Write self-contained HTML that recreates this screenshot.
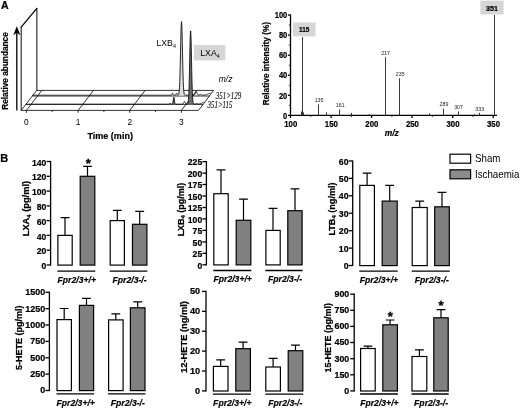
<!DOCTYPE html>
<html><head><meta charset="utf-8"><title>Figure</title>
<style>
html,body{margin:0;padding:0;background:#fff;}
svg{display:block;filter:blur(0.35px);}
text{font-family:"Liberation Sans",Arial,sans-serif;fill:#000;}
.b{font-weight:bold;stroke:#000;stroke-width:0.22;}
.i{font-style:italic;}
.st{font-weight:bold;stroke:#000;stroke-width:0.35;}
.bi{font-weight:bold;font-style:italic;stroke:#000;stroke-width:0.18;}
.ser{font-family:"Liberation Serif","Times New Roman",serif;font-style:italic;fill:#111;stroke:#111;stroke-width:0.15;}
.ax{stroke:#000;stroke-width:1.3;fill:none;}
.thin{stroke:#000;stroke-width:0.8;fill:none;}
.pk{stroke:#222;stroke-width:0.9;fill:none;}
.w{fill:#fff;stroke:#000;stroke-width:1.2;}
.g{fill:#808080;stroke:#000;stroke-width:1.2;}
.eb{stroke:#000;stroke-width:1.2;fill:none;}
.sm{fill:#222;}
</style></head><body>
<svg width="520" height="409" viewBox="0 0 520 409">
<rect x="0" y="0" width="520" height="409" fill="#fff"/>

<text transform="translate(1.00,8.90)" font-size="10.5" text-anchor="start" class="b">A</text>
<line x1="16.8" y1="110.4" x2="16.8" y2="31" class="ax" stroke-width="1.6"/>
<path d="M16.8 26.2 L13.2 35.2 L16.8 32.8 L20.4 35.2 Z" fill="#000"/>
<text transform="translate(8.00,71.00) rotate(-90) scale(0.88,1)" font-size="9.4" text-anchor="middle" class="b">Relative abundance</text>
<path d="M21.2 110.4 L21.2 26.9" fill="none" stroke="#333" stroke-width="1.2"/>
<path d="M36.8 8.6 L36.8 90.4" fill="none" stroke="#5a5a5a" stroke-width="1.5"/>
<path d="M21.2 27.2 L36.8 8.3" fill="none" stroke="#000" stroke-width="1.25" stroke-linecap="round"/>
<path d="M21.2 110.4 L198.6 110.4 L213.6 90.4 L36.6 90.4 Z" class="thin" stroke-width="1.1"/>
<line x1="32.3" y1="96" x2="209.4" y2="96" class="thin" stroke-width="1"/>
<line x1="25.8" y1="104.4" x2="203.1" y2="104.4" class="thin" stroke-width="1"/>
<line x1="26.4" y1="110.4" x2="26.4" y2="112.8" class="thin" stroke-width="1"/>
<line x1="26.4" y1="110.4" x2="41.8" y2="90.4" class="thin" stroke-width="1"/>
<text transform="translate(26.40,124.90) scale(0.95,1)" font-size="8.8" text-anchor="middle">0</text>
<line x1="78.1" y1="110.4" x2="78.1" y2="112.8" class="thin" stroke-width="1"/>
<line x1="78.1" y1="110.4" x2="93.5" y2="90.4" class="thin" stroke-width="1"/>
<text transform="translate(78.07,124.90) scale(0.95,1)" font-size="8.8" text-anchor="middle">1</text>
<line x1="129.7" y1="110.4" x2="129.7" y2="112.8" class="thin" stroke-width="1"/>
<line x1="129.7" y1="110.4" x2="145.1" y2="90.4" class="thin" stroke-width="1"/>
<text transform="translate(129.74,124.90) scale(0.95,1)" font-size="8.8" text-anchor="middle">2</text>
<line x1="181.4" y1="110.4" x2="181.4" y2="112.8" class="thin" stroke-width="1"/>
<line x1="181.4" y1="110.4" x2="196.8" y2="90.4" class="thin" stroke-width="1"/>
<text transform="translate(181.41,124.90) scale(0.95,1)" font-size="8.8" text-anchor="middle">3</text>
<line x1="52.2" y1="110.4" x2="52.2" y2="112" class="thin"/>
<line x1="103.9" y1="110.4" x2="103.9" y2="112" class="thin"/>
<line x1="155.5" y1="110.4" x2="155.5" y2="112" class="thin"/>
<text transform="translate(110.20,138.50) scale(0.94,1)" font-size="9.6" text-anchor="middle" class="b">Time (min)</text>
<path d="M178.25 94.98 L178.50 94.70 L178.75 94.08 L179.00 92.89 L179.25 90.75 L179.50 87.17 L179.75 81.71 L180.00 74.04 L180.25 64.23 L180.50 52.91 L180.75 41.31 L181.00 31.12 L181.25 24.10 L181.50 21.60 L181.75 24.10 L182.00 31.12 L182.25 41.31 L182.50 52.91 L182.75 64.23 L183.00 74.04 L183.25 81.71 L183.50 87.17 L183.75 90.75 L184.00 92.89 L184.25 94.08 L184.50 94.70 L184.75 94.99 L184.8 95.6 L178.2 95.6 Z" fill="#dedede" stroke="none"/>
<path d="M32.50 95.20 L32.75 95.20 L33.00 95.20 L33.25 95.20 L33.50 95.20 L33.75 95.20 L34.00 95.20 L34.25 95.20 L34.50 95.20 L34.75 95.20 L35.00 95.20 L35.25 95.20 L35.50 95.20 L35.75 95.20 L36.00 95.20 L36.25 95.20 L36.50 95.20 L36.75 95.20 L37.00 95.20 L37.25 95.20 L37.50 95.20 L37.75 95.20 L38.00 95.20 L38.25 95.20 L38.50 95.20 L38.75 95.20 L39.00 95.20 L39.25 95.20 L39.50 95.20 L39.75 95.20 L40.00 95.20 L40.25 95.20 L40.50 95.20 L40.75 95.20 L41.00 95.20 L41.25 95.20 L41.50 95.20 L41.75 95.20 L42.00 95.20 L42.25 95.20 L42.50 95.20 L42.75 95.20 L43.00 95.20 L43.25 95.20 L43.50 95.20 L43.75 95.20 L44.00 95.20 L44.25 95.20 L44.50 95.20 L44.75 95.20 L45.00 95.20 L45.25 95.20 L45.50 95.20 L45.75 95.20 L46.00 95.20 L46.25 95.20 L46.50 95.20 L46.75 95.20 L47.00 95.20 L47.25 95.20 L47.50 95.20 L47.75 95.20 L48.00 95.20 L48.25 95.20 L48.50 95.20 L48.75 95.20 L49.00 95.20 L49.25 95.20 L49.50 95.20 L49.75 95.20 L50.00 95.20 L50.25 95.20 L50.50 95.20 L50.75 95.20 L51.00 95.20 L51.25 95.20 L51.50 95.20 L51.75 95.20 L52.00 95.20 L52.25 95.20 L52.50 95.20 L52.75 95.20 L53.00 95.20 L53.25 95.20 L53.50 95.20 L53.75 95.20 L54.00 95.20 L54.25 95.20 L54.50 95.20 L54.75 95.20 L55.00 95.20 L55.25 95.20 L55.50 95.20 L55.75 95.20 L56.00 95.20 L56.25 95.20 L56.50 95.20 L56.75 95.20 L57.00 95.20 L57.25 95.20 L57.50 95.20 L57.75 95.20 L58.00 95.20 L58.25 95.20 L58.50 95.20 L58.75 95.20 L59.00 95.20 L59.25 95.20 L59.50 95.20 L59.75 95.20 L60.00 95.20 L60.25 95.20 L60.50 95.20 L60.75 95.20 L61.00 95.20 L61.25 95.20 L61.50 95.20 L61.75 95.20 L62.00 95.20 L62.25 95.20 L62.50 95.20 L62.75 95.20 L63.00 95.20 L63.25 95.20 L63.50 95.20 L63.75 95.20 L64.00 95.20 L64.25 95.20 L64.50 95.20 L64.75 95.20 L65.00 95.20 L65.25 95.20 L65.50 95.20 L65.75 95.20 L66.00 95.20 L66.25 95.20 L66.50 95.20 L66.75 95.20 L67.00 95.20 L67.25 95.20 L67.50 95.20 L67.75 95.20 L68.00 95.20 L68.25 95.20 L68.50 95.20 L68.75 95.20 L69.00 95.20 L69.25 95.20 L69.50 95.20 L69.75 95.20 L70.00 95.20 L70.25 95.20 L70.50 95.20 L70.75 95.20 L71.00 95.20 L71.25 95.20 L71.50 95.20 L71.75 95.20 L72.00 95.20 L72.25 95.20 L72.50 95.20 L72.75 95.20 L73.00 95.20 L73.25 95.20 L73.50 95.20 L73.75 95.20 L74.00 95.20 L74.25 95.20 L74.50 95.20 L74.75 95.20 L75.00 95.20 L75.25 95.20 L75.50 95.20 L75.75 95.20 L76.00 95.20 L76.25 95.20 L76.50 95.20 L76.75 95.20 L77.00 95.20 L77.25 95.20 L77.50 95.20 L77.75 95.20 L78.00 95.20 L78.25 95.20 L78.50 95.20 L78.75 95.20 L79.00 95.20 L79.25 95.20 L79.50 95.20 L79.75 95.20 L80.00 95.20 L80.25 95.20 L80.50 95.20 L80.75 95.20 L81.00 95.20 L81.25 95.20 L81.50 95.20 L81.75 95.20 L82.00 95.20 L82.25 95.20 L82.50 95.20 L82.75 95.20 L83.00 95.20 L83.25 95.20 L83.50 95.20 L83.75 95.20 L84.00 95.20 L84.25 95.20 L84.50 95.20 L84.75 95.20 L85.00 95.20 L85.25 95.20 L85.50 95.20 L85.75 95.20 L86.00 95.20 L86.25 95.20 L86.50 95.20 L86.75 95.20 L87.00 95.20 L87.25 95.20 L87.50 95.20 L87.75 95.20 L88.00 95.20 L88.25 95.20 L88.50 95.20 L88.75 95.20 L89.00 95.20 L89.25 95.20 L89.50 95.20 L89.75 95.20 L90.00 95.20 L90.25 95.20 L90.50 95.20 L90.75 95.20 L91.00 95.20 L91.25 95.20 L91.50 95.20 L91.75 95.20 L92.00 95.20 L92.25 95.20 L92.50 95.20 L92.75 95.20 L93.00 95.20 L93.25 95.20 L93.50 95.20 L93.75 95.20 L94.00 95.20 L94.25 95.20 L94.50 95.20 L94.75 95.20 L95.00 95.20 L95.25 95.20 L95.50 95.20 L95.75 95.20 L96.00 95.20 L96.25 95.20 L96.50 95.20 L96.75 95.20 L97.00 95.20 L97.25 95.20 L97.50 95.20 L97.75 95.20 L98.00 95.20 L98.25 95.20 L98.50 95.20 L98.75 95.20 L99.00 95.20 L99.25 95.20 L99.50 95.20 L99.75 95.20 L100.00 95.20 L100.25 95.20 L100.50 95.20 L100.75 95.20 L101.00 95.20 L101.25 95.20 L101.50 95.20 L101.75 95.20 L102.00 95.20 L102.25 95.20 L102.50 95.20 L102.75 95.20 L103.00 95.20 L103.25 95.20 L103.50 95.20 L103.75 95.20 L104.00 95.20 L104.25 95.20 L104.50 95.20 L104.75 95.20 L105.00 95.20 L105.25 95.20 L105.50 95.20 L105.75 95.20 L106.00 95.20 L106.25 95.20 L106.50 95.20 L106.75 95.20 L107.00 95.20 L107.25 95.20 L107.50 95.20 L107.75 95.20 L108.00 95.20 L108.25 95.20 L108.50 95.20 L108.75 95.20 L109.00 95.20 L109.25 95.20 L109.50 95.20 L109.75 95.20 L110.00 95.20 L110.25 95.20 L110.50 95.20 L110.75 95.20 L111.00 95.20 L111.25 95.20 L111.50 95.20 L111.75 95.20 L112.00 95.20 L112.25 95.20 L112.50 95.20 L112.75 95.20 L113.00 95.20 L113.25 95.20 L113.50 95.20 L113.75 95.20 L114.00 95.20 L114.25 95.20 L114.50 95.20 L114.75 95.20 L115.00 95.20 L115.25 95.20 L115.50 95.20 L115.75 95.20 L116.00 95.20 L116.25 95.20 L116.50 95.20 L116.75 95.20 L117.00 95.20 L117.25 95.20 L117.50 95.20 L117.75 95.20 L118.00 95.20 L118.25 95.20 L118.50 95.20 L118.75 95.20 L119.00 95.20 L119.25 95.20 L119.50 95.20 L119.75 95.20 L120.00 95.20 L120.25 95.20 L120.50 95.20 L120.75 95.20 L121.00 95.20 L121.25 95.20 L121.50 95.20 L121.75 95.20 L122.00 95.20 L122.25 95.20 L122.50 95.20 L122.75 95.20 L123.00 95.20 L123.25 95.20 L123.50 95.20 L123.75 95.20 L124.00 95.20 L124.25 95.20 L124.50 95.20 L124.75 95.20 L125.00 95.20 L125.25 95.20 L125.50 95.20 L125.75 95.20 L126.00 95.20 L126.25 95.20 L126.50 95.20 L126.75 95.20 L127.00 95.20 L127.25 95.20 L127.50 95.20 L127.75 95.20 L128.00 95.20 L128.25 95.20 L128.50 95.20 L128.75 95.20 L129.00 95.20 L129.25 95.20 L129.50 95.20 L129.75 95.20 L130.00 95.20 L130.25 95.20 L130.50 95.20 L130.75 95.20 L131.00 95.20 L131.25 95.20 L131.50 95.20 L131.75 95.20 L132.00 95.20 L132.25 95.20 L132.50 95.20 L132.75 95.20 L133.00 95.20 L133.25 95.20 L133.50 95.20 L133.75 95.20 L134.00 95.20 L134.25 95.20 L134.50 95.20 L134.75 95.20 L135.00 95.20 L135.25 95.20 L135.50 95.20 L135.75 95.20 L136.00 95.20 L136.25 95.20 L136.50 95.20 L136.75 95.20 L137.00 95.20 L137.25 95.20 L137.50 95.20 L137.75 95.20 L138.00 95.20 L138.25 95.20 L138.50 95.20 L138.75 95.20 L139.00 95.20 L139.25 95.20 L139.50 95.20 L139.75 95.20 L140.00 95.20 L140.25 95.20 L140.50 95.20 L140.75 95.20 L141.00 95.20 L141.25 95.20 L141.50 95.20 L141.75 95.20 L142.00 95.20 L142.25 95.20 L142.50 95.20 L142.75 95.20 L143.00 95.20 L143.25 95.20 L143.50 95.20 L143.75 95.20 L144.00 95.20 L144.25 95.20 L144.50 95.20 L144.75 95.20 L145.00 95.20 L145.25 95.20 L145.50 95.20 L145.75 95.20 L146.00 95.20 L146.25 95.20 L146.50 95.20 L146.75 95.20 L147.00 95.20 L147.25 95.20 L147.50 95.20 L147.75 95.20 L148.00 95.20 L148.25 95.20 L148.50 95.20 L148.75 95.20 L149.00 95.20 L149.25 95.20 L149.50 95.20 L149.75 95.20 L150.00 95.20 L150.25 95.20 L150.50 95.20 L150.75 95.20 L151.00 95.20 L151.25 95.20 L151.50 95.20 L151.75 95.20 L152.00 95.20 L152.25 95.20 L152.50 95.20 L152.75 95.20 L153.00 95.20 L153.25 95.20 L153.50 95.20 L153.75 95.20 L154.00 95.20 L154.25 95.20 L154.50 95.20 L154.75 95.20 L155.00 95.20 L155.25 95.20 L155.50 95.20 L155.75 95.20 L156.00 95.20 L156.25 95.20 L156.50 95.20 L156.75 95.20 L157.00 95.20 L157.25 95.20 L157.50 95.20 L157.75 95.20 L158.00 95.20 L158.25 95.20 L158.50 95.20 L158.75 95.20 L159.00 95.20 L159.25 95.20 L159.50 95.20 L159.75 95.20 L160.00 95.20 L160.25 95.20 L160.50 95.20 L160.75 95.20 L161.00 95.20 L161.25 95.20 L161.50 95.20 L161.75 95.20 L162.00 95.20 L162.25 95.20 L162.50 95.20 L162.75 95.20 L163.00 95.20 L163.25 95.20 L163.50 95.20 L163.75 95.20 L164.00 95.20 L164.25 95.20 L164.50 95.20 L164.75 95.20 L165.00 95.20 L165.25 95.20 L165.50 95.20 L165.75 95.20 L166.00 95.20 L166.25 95.20 L166.50 95.20 L166.75 95.20 L167.00 95.20 L167.25 95.20 L167.50 95.20 L167.75 95.20 L168.00 95.20 L168.25 95.20 L168.50 95.20 L168.75 95.20 L169.00 95.20 L169.25 95.20 L169.50 95.20 L169.75 95.20 L170.00 95.20 L170.25 95.20 L170.50 95.20 L170.75 95.20 L171.00 95.19 L171.25 95.15 L171.50 95.02 L171.75 94.73 L172.00 94.23 L172.25 93.63 L172.50 93.24 L172.75 93.29 L173.00 93.75 L173.25 94.34 L173.50 94.80 L173.75 95.06 L174.00 95.16 L174.25 95.19 L174.50 95.20 L174.75 95.20 L175.00 95.19 L175.25 95.15 L175.50 95.02 L175.75 94.73 L176.00 94.23 L176.25 93.63 L176.50 93.24 L176.75 93.29 L177.00 93.75 L177.25 94.34 L177.50 94.79 L177.75 95.03 L178.00 95.08 L178.25 94.98 L178.50 94.70 L178.75 94.08 L179.00 92.89 L179.25 90.75 L179.50 87.17 L179.75 81.71 L180.00 74.04 L180.25 64.23 L180.50 52.91 L180.75 41.31 L181.00 31.12 L181.25 24.10 L181.50 21.60 L181.75 24.10 L182.00 31.12 L182.25 41.31 L182.50 52.91 L182.75 64.23 L183.00 74.04 L183.25 81.71 L183.50 87.17 L183.75 90.75 L184.00 92.89 L184.25 94.08 L184.50 94.70 L184.75 94.99 L185.00 95.12 L185.25 95.17 L185.50 95.19 L185.75 95.20 L186.00 95.20 L186.25 95.20 L186.50 95.20 L186.75 95.20 L187.00 95.20 L187.25 95.20 L187.50 95.20 L187.75 95.20 L188.00 95.20 L188.25 95.20 L188.50 95.20 L188.75 95.20 L189.00 95.20 L189.25 95.20 L189.50 95.20 L189.75 95.20 L190.00 95.20 L190.25 95.20 L190.50 95.20 L190.75 95.20 L191.00 95.20 L191.25 95.20 L191.50 95.20 L191.75 95.20 L192.00 95.20 L192.25 95.20 L192.50 95.20 L192.75 95.20 L193.00 95.20 L193.25 95.20 L193.50 95.19 L193.75 95.17 L194.00 95.11 L194.25 95.01 L194.50 94.80 L194.75 94.46 L195.00 93.97 L195.25 93.32 L195.50 92.61 L195.75 91.96 L196.00 91.52 L196.25 91.41 L196.50 91.66 L196.75 92.20 L197.00 92.90 L197.25 93.59 L197.50 94.18 L197.75 94.62 L198.00 94.89 L198.25 95.04 L198.50 95.10 L198.75 95.10 L199.00 95.05 L199.25 94.96 L199.50 94.83 L199.75 94.68 L200.00 94.54 L200.25 94.44 L200.50 94.40 L200.75 94.44 L201.00 94.54 L201.25 94.68 L201.50 94.83 L201.75 94.96 L202.00 95.06 L202.25 95.13 L202.50 95.16 L202.75 95.18 L203.00 95.19 L203.25 95.18 L203.50 95.16 L203.75 95.13 L204.00 95.09 L204.25 95.05 L204.50 95.01 L204.75 94.96 L205.00 94.90 L205.25 94.85 L205.50 94.78 L205.75 94.72 L206.00 94.65 L206.25 94.58 L206.50 94.51 L206.75 94.44 L207.00 94.36 L207.25 94.28 L207.50 94.20 L207.75 94.11 L208.00 94.03 L208.25 93.94 L208.50 93.85 L208.75 93.75 L209.00 93.66 L209.25 93.56 L209.50 93.46 L209.75 93.36 L210.00 93.26 L210.25 93.15 L210.50 93.04" fill="none" stroke="#111" stroke-width="0.9" stroke-linejoin="round"/>
<path d="M187.75 103.71 L188.00 103.06 L188.25 101.76 L188.50 99.35 L188.75 95.28 L189.00 89.00 L189.25 80.24 L189.50 69.23 L189.75 56.95 L190.00 45.11 L190.25 35.77 L190.50 30.85 L190.75 31.42 L191.00 37.34 L191.25 47.34 L191.50 59.44 L191.75 71.58 L192.00 82.19 L192.25 90.45 L192.50 96.25 L192.75 99.94 L193.00 102.09 L193.25 103.23 L193.50 103.78 L193.6 104.7 L187.6 104.7 Z" fill="#6c6c6c" stroke="none"/>
<path d="M172.50 103.77 L172.75 103.07 L173.00 101.77 L173.25 99.95 L173.50 98.17 L173.75 97.23 L174.00 97.65 L174.25 99.19 L174.50 101.09 L174.75 102.63 L175.00 103.55 L175.2 104.5 L172.4 104.5 Z" fill="#6c6c6c" stroke="none"/>
<path d="M26.00 104.20 L26.25 104.20 L26.50 104.20 L26.75 104.20 L27.00 104.20 L27.25 104.20 L27.50 104.20 L27.75 104.20 L28.00 104.20 L28.25 104.20 L28.50 104.20 L28.75 104.20 L29.00 104.20 L29.25 104.20 L29.50 104.20 L29.75 104.20 L30.00 104.20 L30.25 104.20 L30.50 104.20 L30.75 104.20 L31.00 104.20 L31.25 104.20 L31.50 104.20 L31.75 104.20 L32.00 104.20 L32.25 104.20 L32.50 104.20 L32.75 104.20 L33.00 104.20 L33.25 104.20 L33.50 104.20 L33.75 104.20 L34.00 104.20 L34.25 104.20 L34.50 104.20 L34.75 104.20 L35.00 104.20 L35.25 104.20 L35.50 104.20 L35.75 104.20 L36.00 104.20 L36.25 104.20 L36.50 104.20 L36.75 104.20 L37.00 104.20 L37.25 104.20 L37.50 104.20 L37.75 104.20 L38.00 104.20 L38.25 104.20 L38.50 104.20 L38.75 104.20 L39.00 104.20 L39.25 104.20 L39.50 104.20 L39.75 104.20 L40.00 104.20 L40.25 104.20 L40.50 104.20 L40.75 104.20 L41.00 104.20 L41.25 104.20 L41.50 104.20 L41.75 104.20 L42.00 104.20 L42.25 104.20 L42.50 104.20 L42.75 104.20 L43.00 104.20 L43.25 104.20 L43.50 104.20 L43.75 104.20 L44.00 104.20 L44.25 104.20 L44.50 104.20 L44.75 104.20 L45.00 104.20 L45.25 104.20 L45.50 104.20 L45.75 104.20 L46.00 104.20 L46.25 104.20 L46.50 104.20 L46.75 104.20 L47.00 104.20 L47.25 104.20 L47.50 104.20 L47.75 104.20 L48.00 104.20 L48.25 104.20 L48.50 104.20 L48.75 104.20 L49.00 104.20 L49.25 104.20 L49.50 104.20 L49.75 104.20 L50.00 104.20 L50.25 104.20 L50.50 104.20 L50.75 104.20 L51.00 104.20 L51.25 104.20 L51.50 104.20 L51.75 104.20 L52.00 104.20 L52.25 104.20 L52.50 104.20 L52.75 104.20 L53.00 104.20 L53.25 104.20 L53.50 104.20 L53.75 104.20 L54.00 104.20 L54.25 104.20 L54.50 104.20 L54.75 104.20 L55.00 104.20 L55.25 104.20 L55.50 104.20 L55.75 104.20 L56.00 104.20 L56.25 104.20 L56.50 104.20 L56.75 104.20 L57.00 104.20 L57.25 104.20 L57.50 104.20 L57.75 104.20 L58.00 104.20 L58.25 104.20 L58.50 104.20 L58.75 104.20 L59.00 104.20 L59.25 104.20 L59.50 104.20 L59.75 104.20 L60.00 104.20 L60.25 104.20 L60.50 104.20 L60.75 104.20 L61.00 104.20 L61.25 104.20 L61.50 104.20 L61.75 104.20 L62.00 104.20 L62.25 104.20 L62.50 104.20 L62.75 104.20 L63.00 104.20 L63.25 104.20 L63.50 104.20 L63.75 104.20 L64.00 104.20 L64.25 104.20 L64.50 104.20 L64.75 104.20 L65.00 104.20 L65.25 104.20 L65.50 104.20 L65.75 104.20 L66.00 104.20 L66.25 104.20 L66.50 104.20 L66.75 104.20 L67.00 104.20 L67.25 104.20 L67.50 104.20 L67.75 104.20 L68.00 104.20 L68.25 104.20 L68.50 104.20 L68.75 104.20 L69.00 104.20 L69.25 104.20 L69.50 104.20 L69.75 104.20 L70.00 104.20 L70.25 104.20 L70.50 104.20 L70.75 104.20 L71.00 104.20 L71.25 104.20 L71.50 104.20 L71.75 104.20 L72.00 104.20 L72.25 104.20 L72.50 104.20 L72.75 104.20 L73.00 104.20 L73.25 104.20 L73.50 104.20 L73.75 104.20 L74.00 104.20 L74.25 104.20 L74.50 104.20 L74.75 104.20 L75.00 104.20 L75.25 104.20 L75.50 104.20 L75.75 104.20 L76.00 104.20 L76.25 104.20 L76.50 104.20 L76.75 104.20 L77.00 104.20 L77.25 104.20 L77.50 104.20 L77.75 104.20 L78.00 104.20 L78.25 104.20 L78.50 104.20 L78.75 104.20 L79.00 104.20 L79.25 104.20 L79.50 104.20 L79.75 104.20 L80.00 104.20 L80.25 104.20 L80.50 104.20 L80.75 104.20 L81.00 104.20 L81.25 104.20 L81.50 104.20 L81.75 104.20 L82.00 104.20 L82.25 104.20 L82.50 104.20 L82.75 104.20 L83.00 104.20 L83.25 104.20 L83.50 104.20 L83.75 104.20 L84.00 104.20 L84.25 104.20 L84.50 104.20 L84.75 104.20 L85.00 104.20 L85.25 104.20 L85.50 104.20 L85.75 104.20 L86.00 104.20 L86.25 104.20 L86.50 104.20 L86.75 104.20 L87.00 104.20 L87.25 104.20 L87.50 104.20 L87.75 104.20 L88.00 104.20 L88.25 104.20 L88.50 104.20 L88.75 104.20 L89.00 104.20 L89.25 104.20 L89.50 104.20 L89.75 104.20 L90.00 104.20 L90.25 104.20 L90.50 104.20 L90.75 104.20 L91.00 104.20 L91.25 104.20 L91.50 104.20 L91.75 104.20 L92.00 104.20 L92.25 104.20 L92.50 104.20 L92.75 104.20 L93.00 104.20 L93.25 104.20 L93.50 104.20 L93.75 104.20 L94.00 104.20 L94.25 104.20 L94.50 104.20 L94.75 104.20 L95.00 104.20 L95.25 104.20 L95.50 104.20 L95.75 104.20 L96.00 104.20 L96.25 104.20 L96.50 104.20 L96.75 104.20 L97.00 104.20 L97.25 104.20 L97.50 104.20 L97.75 104.20 L98.00 104.20 L98.25 104.20 L98.50 104.20 L98.75 104.20 L99.00 104.20 L99.25 104.20 L99.50 104.20 L99.75 104.20 L100.00 104.20 L100.25 104.20 L100.50 104.20 L100.75 104.20 L101.00 104.20 L101.25 104.20 L101.50 104.20 L101.75 104.20 L102.00 104.20 L102.25 104.20 L102.50 104.20 L102.75 104.20 L103.00 104.20 L103.25 104.20 L103.50 104.20 L103.75 104.20 L104.00 104.20 L104.25 104.20 L104.50 104.20 L104.75 104.20 L105.00 104.20 L105.25 104.20 L105.50 104.20 L105.75 104.20 L106.00 104.20 L106.25 104.20 L106.50 104.20 L106.75 104.20 L107.00 104.20 L107.25 104.20 L107.50 104.20 L107.75 104.20 L108.00 104.20 L108.25 104.20 L108.50 104.20 L108.75 104.20 L109.00 104.20 L109.25 104.20 L109.50 104.20 L109.75 104.20 L110.00 104.20 L110.25 104.20 L110.50 104.20 L110.75 104.20 L111.00 104.20 L111.25 104.20 L111.50 104.20 L111.75 104.20 L112.00 104.20 L112.25 104.20 L112.50 104.20 L112.75 104.20 L113.00 104.20 L113.25 104.20 L113.50 104.20 L113.75 104.20 L114.00 104.20 L114.25 104.20 L114.50 104.20 L114.75 104.20 L115.00 104.20 L115.25 104.20 L115.50 104.20 L115.75 104.20 L116.00 104.20 L116.25 104.20 L116.50 104.20 L116.75 104.20 L117.00 104.20 L117.25 104.20 L117.50 104.20 L117.75 104.20 L118.00 104.20 L118.25 104.20 L118.50 104.20 L118.75 104.20 L119.00 104.20 L119.25 104.20 L119.50 104.20 L119.75 104.20 L120.00 104.20 L120.25 104.20 L120.50 104.20 L120.75 104.20 L121.00 104.20 L121.25 104.20 L121.50 104.20 L121.75 104.20 L122.00 104.20 L122.25 104.20 L122.50 104.20 L122.75 104.20 L123.00 104.20 L123.25 104.20 L123.50 104.20 L123.75 104.20 L124.00 104.20 L124.25 104.20 L124.50 104.20 L124.75 104.20 L125.00 104.20 L125.25 104.20 L125.50 104.20 L125.75 104.20 L126.00 104.20 L126.25 104.20 L126.50 104.20 L126.75 104.20 L127.00 104.20 L127.25 104.20 L127.50 104.20 L127.75 104.20 L128.00 104.20 L128.25 104.20 L128.50 104.20 L128.75 104.20 L129.00 104.20 L129.25 104.20 L129.50 104.20 L129.75 104.20 L130.00 104.20 L130.25 104.20 L130.50 104.20 L130.75 104.20 L131.00 104.20 L131.25 104.20 L131.50 104.20 L131.75 104.20 L132.00 104.20 L132.25 104.20 L132.50 104.20 L132.75 104.20 L133.00 104.20 L133.25 104.20 L133.50 104.20 L133.75 104.20 L134.00 104.20 L134.25 104.20 L134.50 104.20 L134.75 104.20 L135.00 104.20 L135.25 104.20 L135.50 104.20 L135.75 104.20 L136.00 104.20 L136.25 104.20 L136.50 104.20 L136.75 104.20 L137.00 104.20 L137.25 104.20 L137.50 104.20 L137.75 104.20 L138.00 104.20 L138.25 104.20 L138.50 104.20 L138.75 104.20 L139.00 104.20 L139.25 104.20 L139.50 104.20 L139.75 104.20 L140.00 104.20 L140.25 104.20 L140.50 104.20 L140.75 104.20 L141.00 104.20 L141.25 104.20 L141.50 104.20 L141.75 104.20 L142.00 104.20 L142.25 104.20 L142.50 104.20 L142.75 104.20 L143.00 104.20 L143.25 104.20 L143.50 104.20 L143.75 104.20 L144.00 104.20 L144.25 104.20 L144.50 104.20 L144.75 104.20 L145.00 104.20 L145.25 104.20 L145.50 104.20 L145.75 104.20 L146.00 104.20 L146.25 104.20 L146.50 104.20 L146.75 104.20 L147.00 104.20 L147.25 104.20 L147.50 104.20 L147.75 104.20 L148.00 104.20 L148.25 104.20 L148.50 104.20 L148.75 104.20 L149.00 104.20 L149.25 104.20 L149.50 104.20 L149.75 104.20 L150.00 104.20 L150.25 104.20 L150.50 104.20 L150.75 104.20 L151.00 104.20 L151.25 104.20 L151.50 104.20 L151.75 104.20 L152.00 104.20 L152.25 104.20 L152.50 104.20 L152.75 104.20 L153.00 104.20 L153.25 104.20 L153.50 104.20 L153.75 104.20 L154.00 104.20 L154.25 104.20 L154.50 104.20 L154.75 104.20 L155.00 104.20 L155.25 104.20 L155.50 104.20 L155.75 104.20 L156.00 104.20 L156.25 104.20 L156.50 104.20 L156.75 104.20 L157.00 104.20 L157.25 104.20 L157.50 104.20 L157.75 104.20 L158.00 104.20 L158.25 104.20 L158.50 104.20 L158.75 104.20 L159.00 104.20 L159.25 104.20 L159.50 104.20 L159.75 104.20 L160.00 104.20 L160.25 104.20 L160.50 104.20 L160.75 104.20 L161.00 104.20 L161.25 104.20 L161.50 104.20 L161.75 104.20 L162.00 104.20 L162.25 104.20 L162.50 104.20 L162.75 104.20 L163.00 104.20 L163.25 104.20 L163.50 104.20 L163.75 104.20 L164.00 104.20 L164.25 104.20 L164.50 104.20 L164.75 104.20 L165.00 104.20 L165.25 104.20 L165.50 104.20 L165.75 104.20 L166.00 104.20 L166.25 104.20 L166.50 104.20 L166.75 104.20 L167.00 104.20 L167.25 104.20 L167.50 104.20 L167.75 104.20 L168.00 104.20 L168.25 104.20 L168.50 104.19 L168.75 104.15 L169.00 104.04 L169.25 103.81 L169.50 103.47 L169.75 103.14 L170.00 103.00 L170.25 103.14 L170.50 103.47 L170.75 103.81 L171.00 104.04 L171.25 104.15 L171.50 104.19 L171.75 104.19 L172.00 104.17 L172.25 104.07 L172.50 103.77 L172.75 103.07 L173.00 101.77 L173.25 99.95 L173.50 98.17 L173.75 97.23 L174.00 97.65 L174.25 99.19 L174.50 101.09 L174.75 102.63 L175.00 103.55 L175.25 103.98 L175.50 104.14 L175.75 104.19 L176.00 104.20 L176.25 104.20 L176.50 104.20 L176.75 104.20 L177.00 104.20 L177.25 104.20 L177.50 104.20 L177.75 104.20 L178.00 104.20 L178.25 104.20 L178.50 104.20 L178.75 104.20 L179.00 104.20 L179.25 104.20 L179.50 104.20 L179.75 104.20 L180.00 104.20 L180.25 104.20 L180.50 104.20 L180.75 104.20 L181.00 104.20 L181.25 104.20 L181.50 104.20 L181.75 104.20 L182.00 104.19 L182.25 104.18 L182.50 104.13 L182.75 104.04 L183.00 103.85 L183.25 103.53 L183.50 103.06 L183.75 102.51 L184.00 101.99 L184.25 101.66 L184.50 101.63 L184.75 101.91 L185.00 102.40 L185.25 102.96 L185.50 103.44 L185.75 103.80 L186.00 104.01 L186.25 104.12 L186.50 104.17 L186.75 104.18 L187.00 104.17 L187.25 104.13 L187.50 104.00 L187.75 103.71 L188.00 103.06 L188.25 101.76 L188.50 99.35 L188.75 95.28 L189.00 89.00 L189.25 80.24 L189.50 69.23 L189.75 56.95 L190.00 45.11 L190.25 35.77 L190.50 30.85 L190.75 31.42 L191.00 37.34 L191.25 47.34 L191.50 59.44 L191.75 71.58 L192.00 82.19 L192.25 90.45 L192.50 96.25 L192.75 99.94 L193.00 102.09 L193.25 103.23 L193.50 103.78 L193.75 104.02 L194.00 104.11 L194.25 104.12 L194.50 104.09 L194.75 104.03 L195.00 103.94 L195.25 103.83 L195.50 103.71 L195.75 103.60 L196.00 103.49 L196.25 103.42 L196.50 103.40 L196.75 103.42 L197.00 103.49 L197.25 103.60 L197.50 103.71 L197.75 103.83 L198.00 103.94 L198.25 104.01 L198.50 104.04 L198.75 104.03 L199.00 104.01 L199.25 103.96 L199.50 103.90 L199.75 103.83 L200.00 103.75 L200.25 103.67 L200.50 103.58 L200.75 103.48 L201.00 103.38 L201.25 103.28 L201.50 103.17 L201.75 103.06 L202.00 102.94 L202.25 102.82 L202.50 102.70 L202.75 102.57 L203.00 102.44 L203.25 102.31 L203.50 102.17 L203.75 102.03" fill="none" stroke="#111" stroke-width="0.9" stroke-linejoin="round"/>
<text transform="translate(156.40,45.60) scale(0.93,1)" font-size="9.4" text-anchor="start">LXB<tspan font-size="5.8" dy="2">4</tspan></text>
<rect x="194" y="45" width="31.4" height="15.4" fill="#d6d6d6"/>
<text transform="translate(200.20,56.40) scale(0.93,1)" font-size="9.4" text-anchor="start">LXA<tspan font-size="5.8" dy="2">4</tspan></text>
<text transform="translate(218.80,81.50) scale(0.9,1)" font-size="9.4" text-anchor="start" class="i">m/z</text>
<text transform="translate(215.80,98.80) scale(0.69,1)" font-size="10" text-anchor="start" class="ser">351&gt;129</text>
<text transform="translate(207.60,107.70) scale(0.69,1)" font-size="10" text-anchor="start" class="ser">351&gt;115</text>
<line x1="290.5" y1="14.5" x2="290.5" y2="115.9" class="ax" stroke-width="1"/>
<line x1="290.0" y1="115.4" x2="497" y2="115.4" class="ax" stroke-width="1"/>
<line x1="287.9" y1="115.4" x2="290.5" y2="115.4" class="ax" stroke-width="0.9"/>
<text transform="translate(287.30,118.60) scale(0.84,1)" font-size="9.0" text-anchor="end" class="b">0</text>
<line x1="287.9" y1="95.3" x2="290.5" y2="95.3" class="ax" stroke-width="0.9"/>
<text transform="translate(287.30,98.52) scale(0.84,1)" font-size="9.0" text-anchor="end" class="b">20</text>
<line x1="287.9" y1="75.2" x2="290.5" y2="75.2" class="ax" stroke-width="0.9"/>
<text transform="translate(287.30,78.44) scale(0.84,1)" font-size="9.0" text-anchor="end" class="b">40</text>
<line x1="287.9" y1="55.2" x2="290.5" y2="55.2" class="ax" stroke-width="0.9"/>
<text transform="translate(287.30,58.36) scale(0.84,1)" font-size="9.0" text-anchor="end" class="b">60</text>
<line x1="287.9" y1="35.1" x2="290.5" y2="35.1" class="ax" stroke-width="0.9"/>
<text transform="translate(287.30,38.28) scale(0.84,1)" font-size="9.0" text-anchor="end" class="b">80</text>
<line x1="287.9" y1="15.0" x2="290.5" y2="15.0" class="ax" stroke-width="0.9"/>
<text transform="translate(287.30,18.20) scale(0.84,1)" font-size="9.0" text-anchor="end" class="b">100</text>
<line x1="288.9" y1="105.4" x2="290.5" y2="105.4" class="thin" stroke-width="0.7"/>
<line x1="288.9" y1="85.3" x2="290.5" y2="85.3" class="thin" stroke-width="0.7"/>
<line x1="288.9" y1="65.2" x2="290.5" y2="65.2" class="thin" stroke-width="0.7"/>
<line x1="288.9" y1="45.1" x2="290.5" y2="45.1" class="thin" stroke-width="0.7"/>
<line x1="288.9" y1="25.0" x2="290.5" y2="25.0" class="thin" stroke-width="0.7"/>
<line x1="290.5" y1="115.4" x2="290.5" y2="118.0" class="ax" stroke-width="0.9"/>
<text transform="translate(290.80,127.30) scale(0.87,1)" font-size="9.0" text-anchor="middle" class="b">100</text>
<line x1="331.1" y1="115.4" x2="331.1" y2="118.0" class="ax" stroke-width="0.9"/>
<text transform="translate(331.35,127.30) scale(0.87,1)" font-size="9.0" text-anchor="middle" class="b">150</text>
<line x1="371.6" y1="115.4" x2="371.6" y2="118.0" class="ax" stroke-width="0.9"/>
<text transform="translate(371.90,127.30) scale(0.87,1)" font-size="9.0" text-anchor="middle" class="b">200</text>
<line x1="412.1" y1="115.4" x2="412.1" y2="118.0" class="ax" stroke-width="0.9"/>
<text transform="translate(412.45,127.30) scale(0.87,1)" font-size="9.0" text-anchor="middle" class="b">250</text>
<line x1="452.7" y1="115.4" x2="452.7" y2="118.0" class="ax" stroke-width="0.9"/>
<text transform="translate(453.00,127.30) scale(0.87,1)" font-size="9.0" text-anchor="middle" class="b">300</text>
<line x1="493.2" y1="115.4" x2="493.2" y2="118.0" class="ax" stroke-width="0.9"/>
<text transform="translate(493.55,127.30) scale(0.87,1)" font-size="9.0" text-anchor="middle" class="b">350</text>
<line x1="310.8" y1="115.4" x2="310.8" y2="117.0" class="thin" stroke-width="0.7"/>
<line x1="351.3" y1="115.4" x2="351.3" y2="117.0" class="thin" stroke-width="0.7"/>
<line x1="391.9" y1="115.4" x2="391.9" y2="117.0" class="thin" stroke-width="0.7"/>
<line x1="432.4" y1="115.4" x2="432.4" y2="117.0" class="thin" stroke-width="0.7"/>
<line x1="473.0" y1="115.4" x2="473.0" y2="117.0" class="thin" stroke-width="0.7"/>
<text transform="translate(268.80,63.60) rotate(-90) scale(0.865,1)" font-size="9.6" text-anchor="middle" class="b">Relative intensity (%)</text>
<text transform="translate(391.80,136.30) scale(0.9,1)" font-size="9.4" text-anchor="middle" class="bi">m/z</text>
<line x1="301.5" y1="115.4" x2="301.5" y2="111.4" class="pk"/>
<line x1="302.5" y1="115.4" x2="302.5" y2="37.1" class="pk"/>
<line x1="303.5" y1="115.4" x2="303.5" y2="112.4" class="pk"/>
<line x1="318.5" y1="115.4" x2="318.5" y2="104.4" class="pk"/>
<line x1="326.5" y1="115.4" x2="326.5" y2="112.4" class="pk"/>
<line x1="339.5" y1="115.4" x2="339.5" y2="109.4" class="pk"/>
<line x1="351.5" y1="115.4" x2="351.5" y2="112.9" class="pk"/>
<line x1="369.5" y1="115.4" x2="369.5" y2="114.2" class="pk"/>
<line x1="385.5" y1="115.4" x2="385.5" y2="57.2" class="pk"/>
<line x1="399.5" y1="115.4" x2="399.5" y2="78.3" class="pk"/>
<line x1="429.5" y1="115.4" x2="429.5" y2="113.4" class="pk"/>
<line x1="443.5" y1="115.4" x2="443.5" y2="108.6" class="pk"/>
<line x1="458.5" y1="115.4" x2="458.5" y2="111.4" class="pk"/>
<line x1="474.5" y1="115.4" x2="474.5" y2="114.4" class="pk"/>
<line x1="479.5" y1="115.4" x2="479.5" y2="112.9" class="pk"/>
<line x1="494.5" y1="115.4" x2="494.5" y2="15.0" class="pk"/>
<text transform="translate(319.08,102.16)" font-size="5.3" text-anchor="middle" class="sm">135</text>
<text transform="translate(340.17,107.18)" font-size="5.3" text-anchor="middle" class="sm">161</text>
<text transform="translate(385.59,54.97)" font-size="5.3" text-anchor="middle" class="sm">217</text>
<text transform="translate(400.19,76.05)" font-size="5.3" text-anchor="middle" class="sm">235</text>
<text transform="translate(443.98,106.37)" font-size="5.3" text-anchor="middle" class="sm">289</text>
<text transform="translate(458.58,109.18)" font-size="5.3" text-anchor="middle" class="sm">307</text>
<text transform="translate(479.66,110.69)" font-size="5.3" text-anchor="middle" class="sm">333</text>
<rect x="293" y="22.4" width="22.6" height="14" fill="#d6d6d6"/>
<text transform="translate(304.20,32.00)" font-size="6.4" text-anchor="middle" class="b">115</text>
<rect x="480.4" y="0.6" width="23.2" height="13.8" fill="#d6d6d6"/>
<text transform="translate(492.00,10.60)" font-size="7.2" text-anchor="middle" class="b">351</text>
<text transform="translate(0.30,161.50)" font-size="11" text-anchor="start" class="b">B</text>
<line x1="50.6" y1="160.9" x2="50.6" y2="265.6" class="ax"/>
<line x1="46.6" y1="265.0" x2="50.6" y2="265.0" class="ax" stroke-width="1.2"/>
<text transform="translate(46.30,269.10) scale(0.92,1)" font-size="9.4" text-anchor="end" class="b">0</text>
<line x1="46.6" y1="250.2" x2="50.6" y2="250.2" class="ax" stroke-width="1.2"/>
<text transform="translate(46.30,254.31) scale(0.92,1)" font-size="9.4" text-anchor="end" class="b">20</text>
<line x1="46.6" y1="235.4" x2="50.6" y2="235.4" class="ax" stroke-width="1.2"/>
<text transform="translate(46.30,239.53) scale(0.92,1)" font-size="9.4" text-anchor="end" class="b">40</text>
<line x1="46.6" y1="220.6" x2="50.6" y2="220.6" class="ax" stroke-width="1.2"/>
<text transform="translate(46.30,224.74) scale(0.92,1)" font-size="9.4" text-anchor="end" class="b">60</text>
<line x1="46.6" y1="205.9" x2="50.6" y2="205.9" class="ax" stroke-width="1.2"/>
<text transform="translate(46.30,209.96) scale(0.92,1)" font-size="9.4" text-anchor="end" class="b">80</text>
<line x1="46.6" y1="191.1" x2="50.6" y2="191.1" class="ax" stroke-width="1.2"/>
<text transform="translate(46.30,195.17) scale(0.92,1)" font-size="9.4" text-anchor="end" class="b">100</text>
<line x1="46.6" y1="176.3" x2="50.6" y2="176.3" class="ax" stroke-width="1.2"/>
<text transform="translate(46.30,180.39) scale(0.92,1)" font-size="9.4" text-anchor="end" class="b">120</text>
<line x1="46.6" y1="161.5" x2="50.6" y2="161.5" class="ax" stroke-width="1.2"/>
<text transform="translate(46.30,165.60) scale(0.92,1)" font-size="9.4" text-anchor="end" class="b">140</text>
<path d="M65.0 235.4 L65.0 217.7 M60.6 217.7 L69.5 217.7" class="eb"/>
<rect x="57.9" y="235.4" width="14.3" height="29.7" class="w"/>
<path d="M87.5 176.3 L87.5 166.3 M83.1 166.3 L91.9 166.3" class="eb"/>
<rect x="80.2" y="176.3" width="14.6" height="88.8" class="g"/>
<text transform="translate(88.20,167.81)" font-size="13" text-anchor="middle" class="st">*</text>
<path d="M117.3 220.6 L117.3 210.3 M112.9 210.3 L121.7 210.3" class="eb"/>
<rect x="110.2" y="220.6" width="14.2" height="44.5" class="w"/>
<path d="M139.7 224.3 L139.7 211.3 M135.3 211.3 L144.1 211.3" class="eb"/>
<rect x="132.5" y="224.3" width="14.4" height="40.8" class="g"/>
<line x1="57.4" y1="271.2" x2="95.3" y2="271.2" class="ax" stroke-width="1.2"/>
<text transform="translate(76.75,283.00) scale(0.94,1)" font-size="9.2" text-anchor="middle" class="bi">Fpr2/3+/+</text>
<line x1="109.7" y1="271.2" x2="147.4" y2="271.2" class="ax" stroke-width="1.2"/>
<text transform="translate(129.55,283.00) scale(0.94,1)" font-size="9.2" text-anchor="middle" class="bi">Fpr2/3-/-</text>
<text transform="translate(29.20,208.60) rotate(-90) scale(0.965,1)" font-size="9.6" text-anchor="middle" class="b">LXA<tspan font-size="6.2" dy="1.8">4</tspan><tspan dy="-1.8"> </tspan>(pg/ml)</text>
<line x1="206.4" y1="161.0" x2="206.4" y2="265.4" class="ax"/>
<line x1="202.4" y1="264.8" x2="206.4" y2="264.8" class="ax" stroke-width="1.2"/>
<text transform="translate(202.20,268.50) scale(0.92,1)" font-size="9.4" text-anchor="end" class="b">0</text>
<line x1="202.4" y1="253.3" x2="206.4" y2="253.3" class="ax" stroke-width="1.2"/>
<text transform="translate(202.20,257.03) scale(0.92,1)" font-size="9.4" text-anchor="end" class="b">25</text>
<line x1="202.4" y1="241.9" x2="206.4" y2="241.9" class="ax" stroke-width="1.2"/>
<text transform="translate(202.20,245.57) scale(0.92,1)" font-size="9.4" text-anchor="end" class="b">50</text>
<line x1="202.4" y1="230.4" x2="206.4" y2="230.4" class="ax" stroke-width="1.2"/>
<text transform="translate(202.20,234.10) scale(0.92,1)" font-size="9.4" text-anchor="end" class="b">75</text>
<line x1="202.4" y1="218.9" x2="206.4" y2="218.9" class="ax" stroke-width="1.2"/>
<text transform="translate(202.20,222.63) scale(0.92,1)" font-size="9.4" text-anchor="end" class="b">100</text>
<line x1="202.4" y1="207.5" x2="206.4" y2="207.5" class="ax" stroke-width="1.2"/>
<text transform="translate(202.20,211.17) scale(0.92,1)" font-size="9.4" text-anchor="end" class="b">125</text>
<line x1="202.4" y1="196.0" x2="206.4" y2="196.0" class="ax" stroke-width="1.2"/>
<text transform="translate(202.20,199.70) scale(0.92,1)" font-size="9.4" text-anchor="end" class="b">150</text>
<line x1="202.4" y1="184.5" x2="206.4" y2="184.5" class="ax" stroke-width="1.2"/>
<text transform="translate(202.20,188.23) scale(0.92,1)" font-size="9.4" text-anchor="end" class="b">175</text>
<line x1="202.4" y1="173.1" x2="206.4" y2="173.1" class="ax" stroke-width="1.2"/>
<text transform="translate(202.20,176.77) scale(0.92,1)" font-size="9.4" text-anchor="end" class="b">200</text>
<line x1="202.4" y1="161.6" x2="206.4" y2="161.6" class="ax" stroke-width="1.2"/>
<text transform="translate(202.20,165.30) scale(0.92,1)" font-size="9.4" text-anchor="end" class="b">225</text>
<path d="M221.0 193.7 L221.0 169.9 M216.6 169.9 L225.4 169.9" class="eb"/>
<rect x="213.8" y="193.7" width="14.4" height="71.2" class="w"/>
<path d="M243.5 220.3 L243.5 199.2 M239.1 199.2 L247.9 199.2" class="eb"/>
<rect x="236.2" y="220.3" width="14.6" height="44.6" class="g"/>
<path d="M273.0 230.4 L273.0 208.4 M268.6 208.4 L277.4 208.4" class="eb"/>
<rect x="265.9" y="230.4" width="14.3" height="34.5" class="w"/>
<path d="M295.0 210.7 L295.0 188.9 M290.6 188.9 L299.4 188.9" class="eb"/>
<rect x="287.8" y="210.7" width="14.3" height="54.2" class="g"/>
<line x1="213.3" y1="270.5" x2="251.3" y2="270.5" class="ax" stroke-width="1.2"/>
<text transform="translate(232.70,282.40) scale(0.94,1)" font-size="9.2" text-anchor="middle" class="bi">Fpr2/3+/+</text>
<line x1="265.4" y1="270.5" x2="302.6" y2="270.5" class="ax" stroke-width="1.2"/>
<text transform="translate(285.00,282.40) scale(0.94,1)" font-size="9.2" text-anchor="middle" class="bi">Fpr2/3-/-</text>
<text transform="translate(183.60,209.60) rotate(-90) scale(0.935,1)" font-size="9.6" text-anchor="middle" class="b">LXB<tspan font-size="6.2" dy="1.8">4</tspan><tspan dy="-1.8"> </tspan>(pg/ml)</text>
<line x1="352.7" y1="160.4" x2="352.7" y2="266.1" class="ax"/>
<line x1="348.7" y1="265.5" x2="352.7" y2="265.5" class="ax" stroke-width="1.2"/>
<text transform="translate(348.50,269.00) scale(0.93,1)" font-size="9.4" text-anchor="end" class="b">0</text>
<line x1="348.7" y1="248.1" x2="352.7" y2="248.1" class="ax" stroke-width="1.2"/>
<text transform="translate(348.50,251.58) scale(0.93,1)" font-size="9.4" text-anchor="end" class="b">10</text>
<line x1="348.7" y1="230.7" x2="352.7" y2="230.7" class="ax" stroke-width="1.2"/>
<text transform="translate(348.50,234.17) scale(0.93,1)" font-size="9.4" text-anchor="end" class="b">20</text>
<line x1="348.7" y1="213.2" x2="352.7" y2="213.2" class="ax" stroke-width="1.2"/>
<text transform="translate(348.50,216.75) scale(0.93,1)" font-size="9.4" text-anchor="end" class="b">30</text>
<line x1="348.7" y1="195.8" x2="352.7" y2="195.8" class="ax" stroke-width="1.2"/>
<text transform="translate(348.50,199.33) scale(0.93,1)" font-size="9.4" text-anchor="end" class="b">40</text>
<line x1="348.7" y1="178.4" x2="352.7" y2="178.4" class="ax" stroke-width="1.2"/>
<text transform="translate(348.50,181.92) scale(0.93,1)" font-size="9.4" text-anchor="end" class="b">50</text>
<line x1="348.7" y1="161.0" x2="352.7" y2="161.0" class="ax" stroke-width="1.2"/>
<text transform="translate(348.50,164.50) scale(0.93,1)" font-size="9.4" text-anchor="end" class="b">60</text>
<path d="M367.1 185.4 L367.1 173.2 M362.7 173.2 L371.5 173.2" class="eb"/>
<rect x="359.8" y="185.4" width="14.6" height="80.2" class="w"/>
<path d="M389.7 201.1 L389.7 185.4 M385.3 185.4 L394.1 185.4" class="eb"/>
<rect x="382.2" y="201.1" width="15.0" height="64.5" class="g"/>
<path d="M419.7 207.5 L419.7 201.2 M415.3 201.2 L424.1 201.2" class="eb"/>
<rect x="412.2" y="207.5" width="15.0" height="58.1" class="w"/>
<path d="M442.0 206.8 L442.0 192.3 M437.6 192.3 L446.4 192.3" class="eb"/>
<rect x="434.7" y="206.8" width="14.6" height="58.8" class="g"/>
<line x1="359.3" y1="271.2" x2="397.7" y2="271.2" class="ax" stroke-width="1.2"/>
<text transform="translate(378.90,282.60) scale(0.94,1)" font-size="9.2" text-anchor="middle" class="bi">Fpr2/3+/+</text>
<line x1="411.7" y1="271.2" x2="449.8" y2="271.2" class="ax" stroke-width="1.2"/>
<text transform="translate(431.75,282.60) scale(0.94,1)" font-size="9.2" text-anchor="middle" class="bi">Fpr2/3-/-</text>
<text transform="translate(334.60,209.00) rotate(-90) scale(0.95,1)" font-size="9.6" text-anchor="middle" class="b">LTB<tspan font-size="6.2" dy="1.8">4</tspan><tspan dy="-1.8"> </tspan>(ng/ml)</text>
<line x1="49.4" y1="291.7" x2="49.4" y2="391.1" class="ax"/>
<line x1="45.4" y1="390.5" x2="49.4" y2="390.5" class="ax" stroke-width="1.2"/>
<text transform="translate(45.20,393.40) scale(0.955,1)" font-size="9.4" text-anchor="end" class="b">0</text>
<line x1="45.4" y1="374.1" x2="49.4" y2="374.1" class="ax" stroke-width="1.2"/>
<text transform="translate(45.20,377.03) scale(0.955,1)" font-size="9.4" text-anchor="end" class="b">250</text>
<line x1="45.4" y1="357.8" x2="49.4" y2="357.8" class="ax" stroke-width="1.2"/>
<text transform="translate(45.20,360.67) scale(0.955,1)" font-size="9.4" text-anchor="end" class="b">500</text>
<line x1="45.4" y1="341.4" x2="49.4" y2="341.4" class="ax" stroke-width="1.2"/>
<text transform="translate(45.20,344.30) scale(0.955,1)" font-size="9.4" text-anchor="end" class="b">750</text>
<line x1="45.4" y1="325.0" x2="49.4" y2="325.0" class="ax" stroke-width="1.2"/>
<text transform="translate(45.20,327.93) scale(0.955,1)" font-size="9.4" text-anchor="end" class="b">1000</text>
<line x1="45.4" y1="308.7" x2="49.4" y2="308.7" class="ax" stroke-width="1.2"/>
<text transform="translate(45.20,311.57) scale(0.955,1)" font-size="9.4" text-anchor="end" class="b">1250</text>
<line x1="45.4" y1="292.3" x2="49.4" y2="292.3" class="ax" stroke-width="1.2"/>
<text transform="translate(45.20,295.20) scale(0.955,1)" font-size="9.4" text-anchor="end" class="b">1500</text>
<path d="M64.2 319.6 L64.2 308.5 M59.8 308.5 L68.6 308.5" class="eb"/>
<rect x="57.0" y="319.6" width="14.4" height="71.0" class="w"/>
<path d="M86.5 305.4 L86.5 298.3 M82.1 298.3 L90.9 298.3" class="eb"/>
<rect x="79.4" y="305.4" width="14.2" height="85.2" class="g"/>
<path d="M115.8 319.9 L115.8 313.9 M111.4 313.9 L120.2 313.9" class="eb"/>
<rect x="108.6" y="319.9" width="14.5" height="70.7" class="w"/>
<path d="M137.7 307.8 L137.7 301.8 M133.3 301.8 L142.1 301.8" class="eb"/>
<rect x="130.4" y="307.8" width="14.6" height="82.8" class="g"/>
<line x1="56.5" y1="393.8" x2="94.1" y2="393.8" class="ax" stroke-width="1.2"/>
<text transform="translate(75.70,405.60) scale(0.94,1)" font-size="9.2" text-anchor="middle" class="bi">Fpr2/3+/+</text>
<line x1="108.1" y1="393.8" x2="145.5" y2="393.8" class="ax" stroke-width="1.2"/>
<text transform="translate(127.80,405.60) scale(0.94,1)" font-size="9.2" text-anchor="middle" class="bi">Fpr2/3-/-</text>
<text transform="translate(21.80,337.70) rotate(-90) scale(0.94,1)" font-size="9.6" text-anchor="middle" class="b">5-HETE (pg/ml)</text>
<line x1="206" y1="290.8" x2="206" y2="391.5" class="ax"/>
<line x1="202.0" y1="390.9" x2="206" y2="390.9" class="ax" stroke-width="1.2"/>
<text transform="translate(200.20,393.80) scale(0.975,1)" font-size="9.4" text-anchor="end" class="b">0</text>
<line x1="202.0" y1="371.0" x2="206" y2="371.0" class="ax" stroke-width="1.2"/>
<text transform="translate(200.20,373.90) scale(0.975,1)" font-size="9.4" text-anchor="end" class="b">10</text>
<line x1="202.0" y1="351.1" x2="206" y2="351.1" class="ax" stroke-width="1.2"/>
<text transform="translate(200.20,354.00) scale(0.975,1)" font-size="9.4" text-anchor="end" class="b">20</text>
<line x1="202.0" y1="331.2" x2="206" y2="331.2" class="ax" stroke-width="1.2"/>
<text transform="translate(200.20,334.10) scale(0.975,1)" font-size="9.4" text-anchor="end" class="b">30</text>
<line x1="202.0" y1="311.3" x2="206" y2="311.3" class="ax" stroke-width="1.2"/>
<text transform="translate(200.20,314.20) scale(0.975,1)" font-size="9.4" text-anchor="end" class="b">40</text>
<line x1="202.0" y1="291.4" x2="206" y2="291.4" class="ax" stroke-width="1.2"/>
<text transform="translate(200.20,294.30) scale(0.975,1)" font-size="9.4" text-anchor="end" class="b">50</text>
<path d="M220.7 366.4 L220.7 359.9 M216.3 359.9 L225.1 359.9" class="eb"/>
<rect x="213.4" y="366.4" width="14.6" height="24.6" class="w"/>
<path d="M243.1 348.7 L243.1 342.1 M238.7 342.1 L247.5 342.1" class="eb"/>
<rect x="235.8" y="348.7" width="14.6" height="42.3" class="g"/>
<path d="M273.1 367.0 L273.1 358.3 M268.7 358.3 L277.5 358.3" class="eb"/>
<rect x="265.8" y="367.0" width="14.6" height="24.0" class="w"/>
<path d="M295.5 350.7 L295.5 345.1 M291.1 345.1 L299.9 345.1" class="eb"/>
<rect x="288.2" y="350.7" width="14.6" height="40.3" class="g"/>
<line x1="212.9" y1="394.2" x2="250.9" y2="394.2" class="ax" stroke-width="1.2"/>
<text transform="translate(232.30,405.60) scale(0.94,1)" font-size="9.2" text-anchor="middle" class="bi">Fpr2/3+/+</text>
<line x1="265.3" y1="394.2" x2="303.3" y2="394.2" class="ax" stroke-width="1.2"/>
<text transform="translate(285.30,405.60) scale(0.94,1)" font-size="9.2" text-anchor="middle" class="bi">Fpr2/3-/-</text>
<text transform="translate(186.60,337.00) rotate(-90) scale(0.97,1)" font-size="9.6" text-anchor="middle" class="b">12-HETE (ng/ml)</text>
<line x1="354.2" y1="293.6" x2="354.2" y2="391.5" class="ax"/>
<line x1="350.2" y1="390.9" x2="354.2" y2="390.9" class="ax" stroke-width="1.2"/>
<text transform="translate(349.20,393.80) scale(0.94,1)" font-size="9.4" text-anchor="end" class="b">0</text>
<line x1="350.2" y1="374.8" x2="354.2" y2="374.8" class="ax" stroke-width="1.2"/>
<text transform="translate(349.20,377.68) scale(0.94,1)" font-size="9.4" text-anchor="end" class="b">150</text>
<line x1="350.2" y1="358.7" x2="354.2" y2="358.7" class="ax" stroke-width="1.2"/>
<text transform="translate(349.20,361.57) scale(0.94,1)" font-size="9.4" text-anchor="end" class="b">300</text>
<line x1="350.2" y1="342.5" x2="354.2" y2="342.5" class="ax" stroke-width="1.2"/>
<text transform="translate(349.20,345.45) scale(0.94,1)" font-size="9.4" text-anchor="end" class="b">450</text>
<line x1="350.2" y1="326.4" x2="354.2" y2="326.4" class="ax" stroke-width="1.2"/>
<text transform="translate(349.20,329.33) scale(0.94,1)" font-size="9.4" text-anchor="end" class="b">600</text>
<line x1="350.2" y1="310.3" x2="354.2" y2="310.3" class="ax" stroke-width="1.2"/>
<text transform="translate(349.20,313.22) scale(0.94,1)" font-size="9.4" text-anchor="end" class="b">750</text>
<line x1="350.2" y1="294.2" x2="354.2" y2="294.2" class="ax" stroke-width="1.2"/>
<text transform="translate(349.20,297.10) scale(0.94,1)" font-size="9.4" text-anchor="end" class="b">900</text>
<path d="M367.9 348.5 L367.9 346.1 M363.5 346.1 L372.3 346.1" class="eb"/>
<rect x="360.6" y="348.5" width="14.6" height="42.5" class="w"/>
<path d="M390.1 324.8 L390.1 320.0 M385.7 320.0 L394.5 320.0" class="eb"/>
<rect x="382.8" y="324.8" width="14.6" height="66.2" class="g"/>
<text transform="translate(390.40,321.49)" font-size="13" text-anchor="middle" class="st">*</text>
<path d="M419.4 356.5 L419.4 349.9 M415.0 349.9 L423.8 349.9" class="eb"/>
<rect x="412.0" y="356.5" width="14.8" height="34.5" class="w"/>
<path d="M441.0 317.8 L441.0 309.7 M436.6 309.7 L445.4 309.7" class="eb"/>
<rect x="433.8" y="317.8" width="14.4" height="73.2" class="g"/>
<text transform="translate(441.10,310.17)" font-size="13" text-anchor="middle" class="st">*</text>
<line x1="360.1" y1="394" x2="397.9" y2="394" class="ax" stroke-width="1.2"/>
<text transform="translate(379.40,405.80) scale(0.94,1)" font-size="9.2" text-anchor="middle" class="bi">Fpr2/3+/+</text>
<line x1="411.5" y1="394" x2="448.7" y2="394" class="ax" stroke-width="1.2"/>
<text transform="translate(431.10,405.80) scale(0.94,1)" font-size="9.2" text-anchor="middle" class="bi">Fpr2/3-/-</text>
<text transform="translate(330.60,337.70) rotate(-90) scale(0.94,1)" font-size="9.6" text-anchor="middle" class="b">15-HETE (pg/ml)</text>
<rect x="450" y="154.2" width="20.6" height="9" class="w"/>
<rect x="450" y="169.8" width="20.6" height="9" fill="#8c8c8c" stroke="#000" stroke-width="1.2"/>
<text transform="translate(475.00,162.20) scale(0.955,1)" font-size="10.2" text-anchor="start">Sham</text>
<text transform="translate(475.00,177.80) scale(0.955,1)" font-size="10.2" text-anchor="start">Ischaemia</text>
</svg></body></html>
